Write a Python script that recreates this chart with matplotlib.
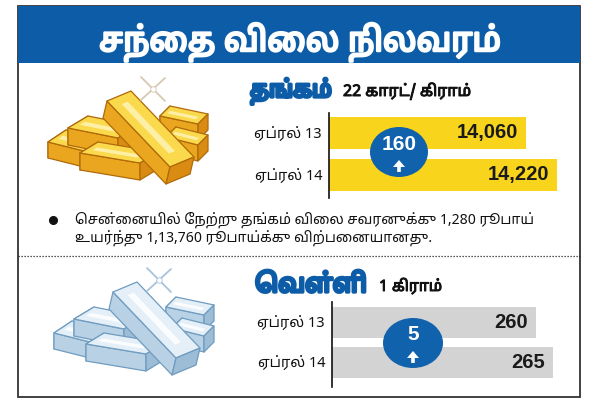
import matplotlib
matplotlib.use("Agg")
import matplotlib.pyplot as plt
import matplotlib.patheffects as pe
from matplotlib.patches import Rectangle, Polygon, Ellipse, FancyArrow

# ---- data ----
title = "சந்தை விலை நிலவரம்"
gold_name = "தங்கம்"
gold_unit = "22 காரட்/ கிராம்"
silver_name = "வெள்ளி"
silver_unit = "1 கிராம்"
dates = ["ஏப்ரல் 13", "ஏப்ரல் 14"]
gold_prices = [14060, 14220]
silver_prices = [260, 265]
note_lines = ["சென்னையில் நேற்று தங்கம் விலை சவரனுக்கு 1,280 ரூபாய்",
              "உயர்ந்து 1,13,760 ரூபாய்க்கு விற்பனையானது."]

BLUE = "#0d5ca7"
YELLOW = "#f8d51c"
GREY = "#d3d3d3"
TAMIL = ["Noto Sans Tamil", "Liberation Sans"]
NUM = ["Liberation Sans"]

W, H = 600, 413
fig = plt.figure(figsize=(6, 4.13), dpi=100)


def vis(s):
    # matplotlib does no shaping: put Tamil prefix vowel signs before their consonant
    out = []
    for ch in s:
        if ch in "\u0BC6\u0BC7\u0BC8" and out:
            out.insert(len(out) - 1, ch)
        elif ch in "\u0BCA\u0BCB" and out:
            out.insert(len(out) - 1, "\u0BC6" if ch == "\u0BCA" else "\u0BC7")
            out.append("\u0BBE")
        else:
            out.append(ch)
    return "".join(out)


def px_axes(x0, y0, x1, y1, z):
    return fig.add_axes([x0 / W, 1 - y1 / H, (x1 - x0) / W, (y1 - y0) / H], zorder=z)


def fit(ax, x, y, s, width, **kw):
    t = ax.text(x, y, s, **kw)
    w = t.get_window_extent(fig.canvas.get_renderer()).width
    t.set_fontsize(t.get_fontsize() * width / w)
    return t


def bold(lw, color):
    return [pe.withStroke(linewidth=lw, foreground=color)]


bg = fig.add_axes([0, 0, 1, 1], zorder=0)
bg.set_xlim(0, W)
bg.set_ylim(H, 0)
bg.axis("off")

# frame and title bar
bg.add_patch(Rectangle((18, 6), 562, 391, fc="white", ec="#333333", lw=1.3))
bg.add_patch(Rectangle((18, 6), 562, 57, fc=BLUE, ec="none"))
fit(bg, 300, 51, vis(title), 402, ha="center", va="baseline", color="white",
    family=TAMIL, fontsize=26, path_effects=bold(1.8, "white"))


# ---- ingot piles ----
def box(o, u, v, h):
    ox, oy = o
    top = [(ox, oy), (ox + u[0], oy + u[1]), (ox + u[0] + v[0], oy + u[1] + v[1]), (ox + v[0], oy + v[1])]
    front = [(ox, oy), (ox + u[0], oy + u[1]), (ox + u[0] + h[0], oy + u[1] + h[1]), (ox + h[0], oy + h[1])]
    end = [top[1], top[2], (top[2][0] + h[0], top[2][1] + h[1]), front[2]]
    start = [(ox, oy), (ox + v[0], oy + v[1]), (ox + v[0] + h[0], oy + v[1] + h[1]), (ox + h[0], oy + h[1])]
    return top, front, end, start


pile = [
    ((160, 116), (38, 8), (10, -10), (0, 16)),
    ((166, 137), (32, 8), (10, -10), (0, 16)),
    ((48, 142), (40, 10), (18, -12), (0, 16)),
    ((68, 128), (50, 10), (20, -12), (0, 17)),
    ((80, 153), (60, 10), (18, -11), (0, 17)),
    ((107, 101), (63, 66), (24, -10), (-4, 17)),
]


def draw_pile(dx, dy, c_top, c_front, c_end, c_edge, c_shine, c_spark):
    for i, (o, u, v, h) in enumerate(pile):
        top, front, end, start = box((o[0] + dx, o[1] + dy), u, v, h)
        if i < 5:
            bg.add_patch(Polygon(start, fc=c_end, ec=c_edge, lw=0.9, joinstyle="round"))
        bg.add_patch(Polygon(front, fc=c_front, ec=c_edge, lw=0.9, joinstyle="round"))
        bg.add_patch(Polygon(top, fc=c_top, ec=c_edge, lw=0.9, joinstyle="round"))
        bg.add_patch(Polygon(end, fc=c_end, ec=c_edge, lw=0.9, joinstyle="round"))
        a = (top[0][0] + 0.35 * v[0] + 0.1 * u[0], top[0][1] + 0.35 * v[1] + 0.1 * u[1])
        b = (a[0] + 0.75 * u[0], a[1] + 0.75 * u[1])
        bg.add_patch(Polygon([a, b, (b[0] + 0.25 * v[0], b[1] + 0.25 * v[1]),
                              (a[0] + 0.25 * v[0], a[1] + 0.25 * v[1])], fc=c_shine, ec="none", alpha=0.85))
    cx, cy = 153 + dx, 89 + dy
    for ddx, ddy in [(12, 12), (12, -11)]:
        bg.plot([cx - ddx, cx + ddx], [cy - ddy, cy + ddy], color=c_spark, lw=1.3, solid_capstyle="round")
    bg.plot([cx], [cy], "o", ms=4, color="white", mec=c_spark, mew=0.6)


draw_pile(0, 0, "#fbd94c", "#eaa61e", "#d98b12", "#b06a0a", "#fff4b8", "#d6c9b2")
draw_pile(6, 191, "#e4eff8", "#b9d1e5", "#9dbcd6", "#6f9cc0", "#ffffff", "#a8c3dc")

# ---- headings ----
fit(bg, 250, 97, gold_name, 82, ha="left", va="baseline", color=BLUE, family=TAMIL,
    fontsize=16, path_effects=bold(2.4, BLUE))
fit(bg, 343, 96, vis(gold_unit), 128, ha="left", va="baseline", color="#111111",
    family=TAMIL, fontsize=10, path_effects=bold(0.7, "#111111"))
fit(bg, 255, 292, vis(silver_name), 112, ha="left", va="baseline", color=BLUE, family=TAMIL,
    fontsize=16, path_effects=bold(2.4, BLUE))
fit(bg, 379, 291, silver_unit, 63, ha="left", va="baseline", color="#111111",
    family=TAMIL, fontsize=10, path_effects=bold(0.7, "#111111"))

# ---- note ----
bg.plot([53], [220], "o", ms=5.5, color="#111111")
t1 = fit(bg, 75, 220, vis(note_lines[0]), 460, ha="left", va="center", color="#111111", family=TAMIL, fontsize=11)
bg.text(75, 238, vis(note_lines[1]), ha="left", va="center", color="#111111", family=TAMIL,
        fontsize=t1.get_fontsize())
bg.plot([18, 580], [256, 256], color="#222222", lw=0.9, ls=(0, (1, 1.4)))


# ---- price bars ----
def price_bars(x0, y0, x1, y1, prices, xlim, ylim, height, color):
    ax = px_axes(x0, y0, x1, y1, 1)
    ax.patch.set_alpha(0)
    ax.barh(range(len(prices)), prices, height=height, color=color)
    ax.set_xlim(xlim)
    ax.set_ylim(ylim)
    for s in ["top", "right", "bottom"]:
        ax.spines[s].set_visible(False)
    ax.spines["left"].set_linewidth(1.2)
    ax.spines["left"].set_color("#111111")
    ax.set_xticks([])
    ax.set_yticks(range(len(dates)))
    ax.set_yticklabels(dates, family=TAMIL, fontsize=10.5, color="#111111")
    ax.tick_params(axis="y", length=0, pad=5)
    for i, p in enumerate(prices):
        ax.annotate(f"{p:,}", (p, i), xytext=(-8, 0), textcoords="offset pixels", ha="right",
                    va="center", family=NUM, fontsize=14.5, fontweight="bold", color="#1a1a1a")
    return ax


price_bars(329, 113, 580, 198, gold_prices, (13043, 14338), (1.548, -0.476), 0.76, YELLOW)
price_bars(332, 302, 580, 387, silver_prices, (200, 272.9), (1.6125, -0.5125), 0.78, GREY)

# ---- change badges ----
top = fig.add_axes([0, 0, 1, 1], zorder=2)
top.set_xlim(0, W)
top.set_ylim(H, 0)
top.axis("off")
for (cx, cy, ew), prices in [((399, 152, 58), gold_prices), ((413, 343, 60), silver_prices)]:
    top.add_patch(Ellipse((cx, cy), ew, 50, fc="#1062ad", ec="none"))
    top.text(cx, cy - 8, f"{prices[1] - prices[0]}", ha="center", va="center", color="white",
             family=NUM, fontsize=15, fontweight="bold")
    top.add_patch(FancyArrow(cx, cy + 20, 0, -12, width=3.6, head_width=12, head_length=7,
                             length_includes_head=True, fc="white", ec="none"))

fig.savefig("out.png", dpi=100)
